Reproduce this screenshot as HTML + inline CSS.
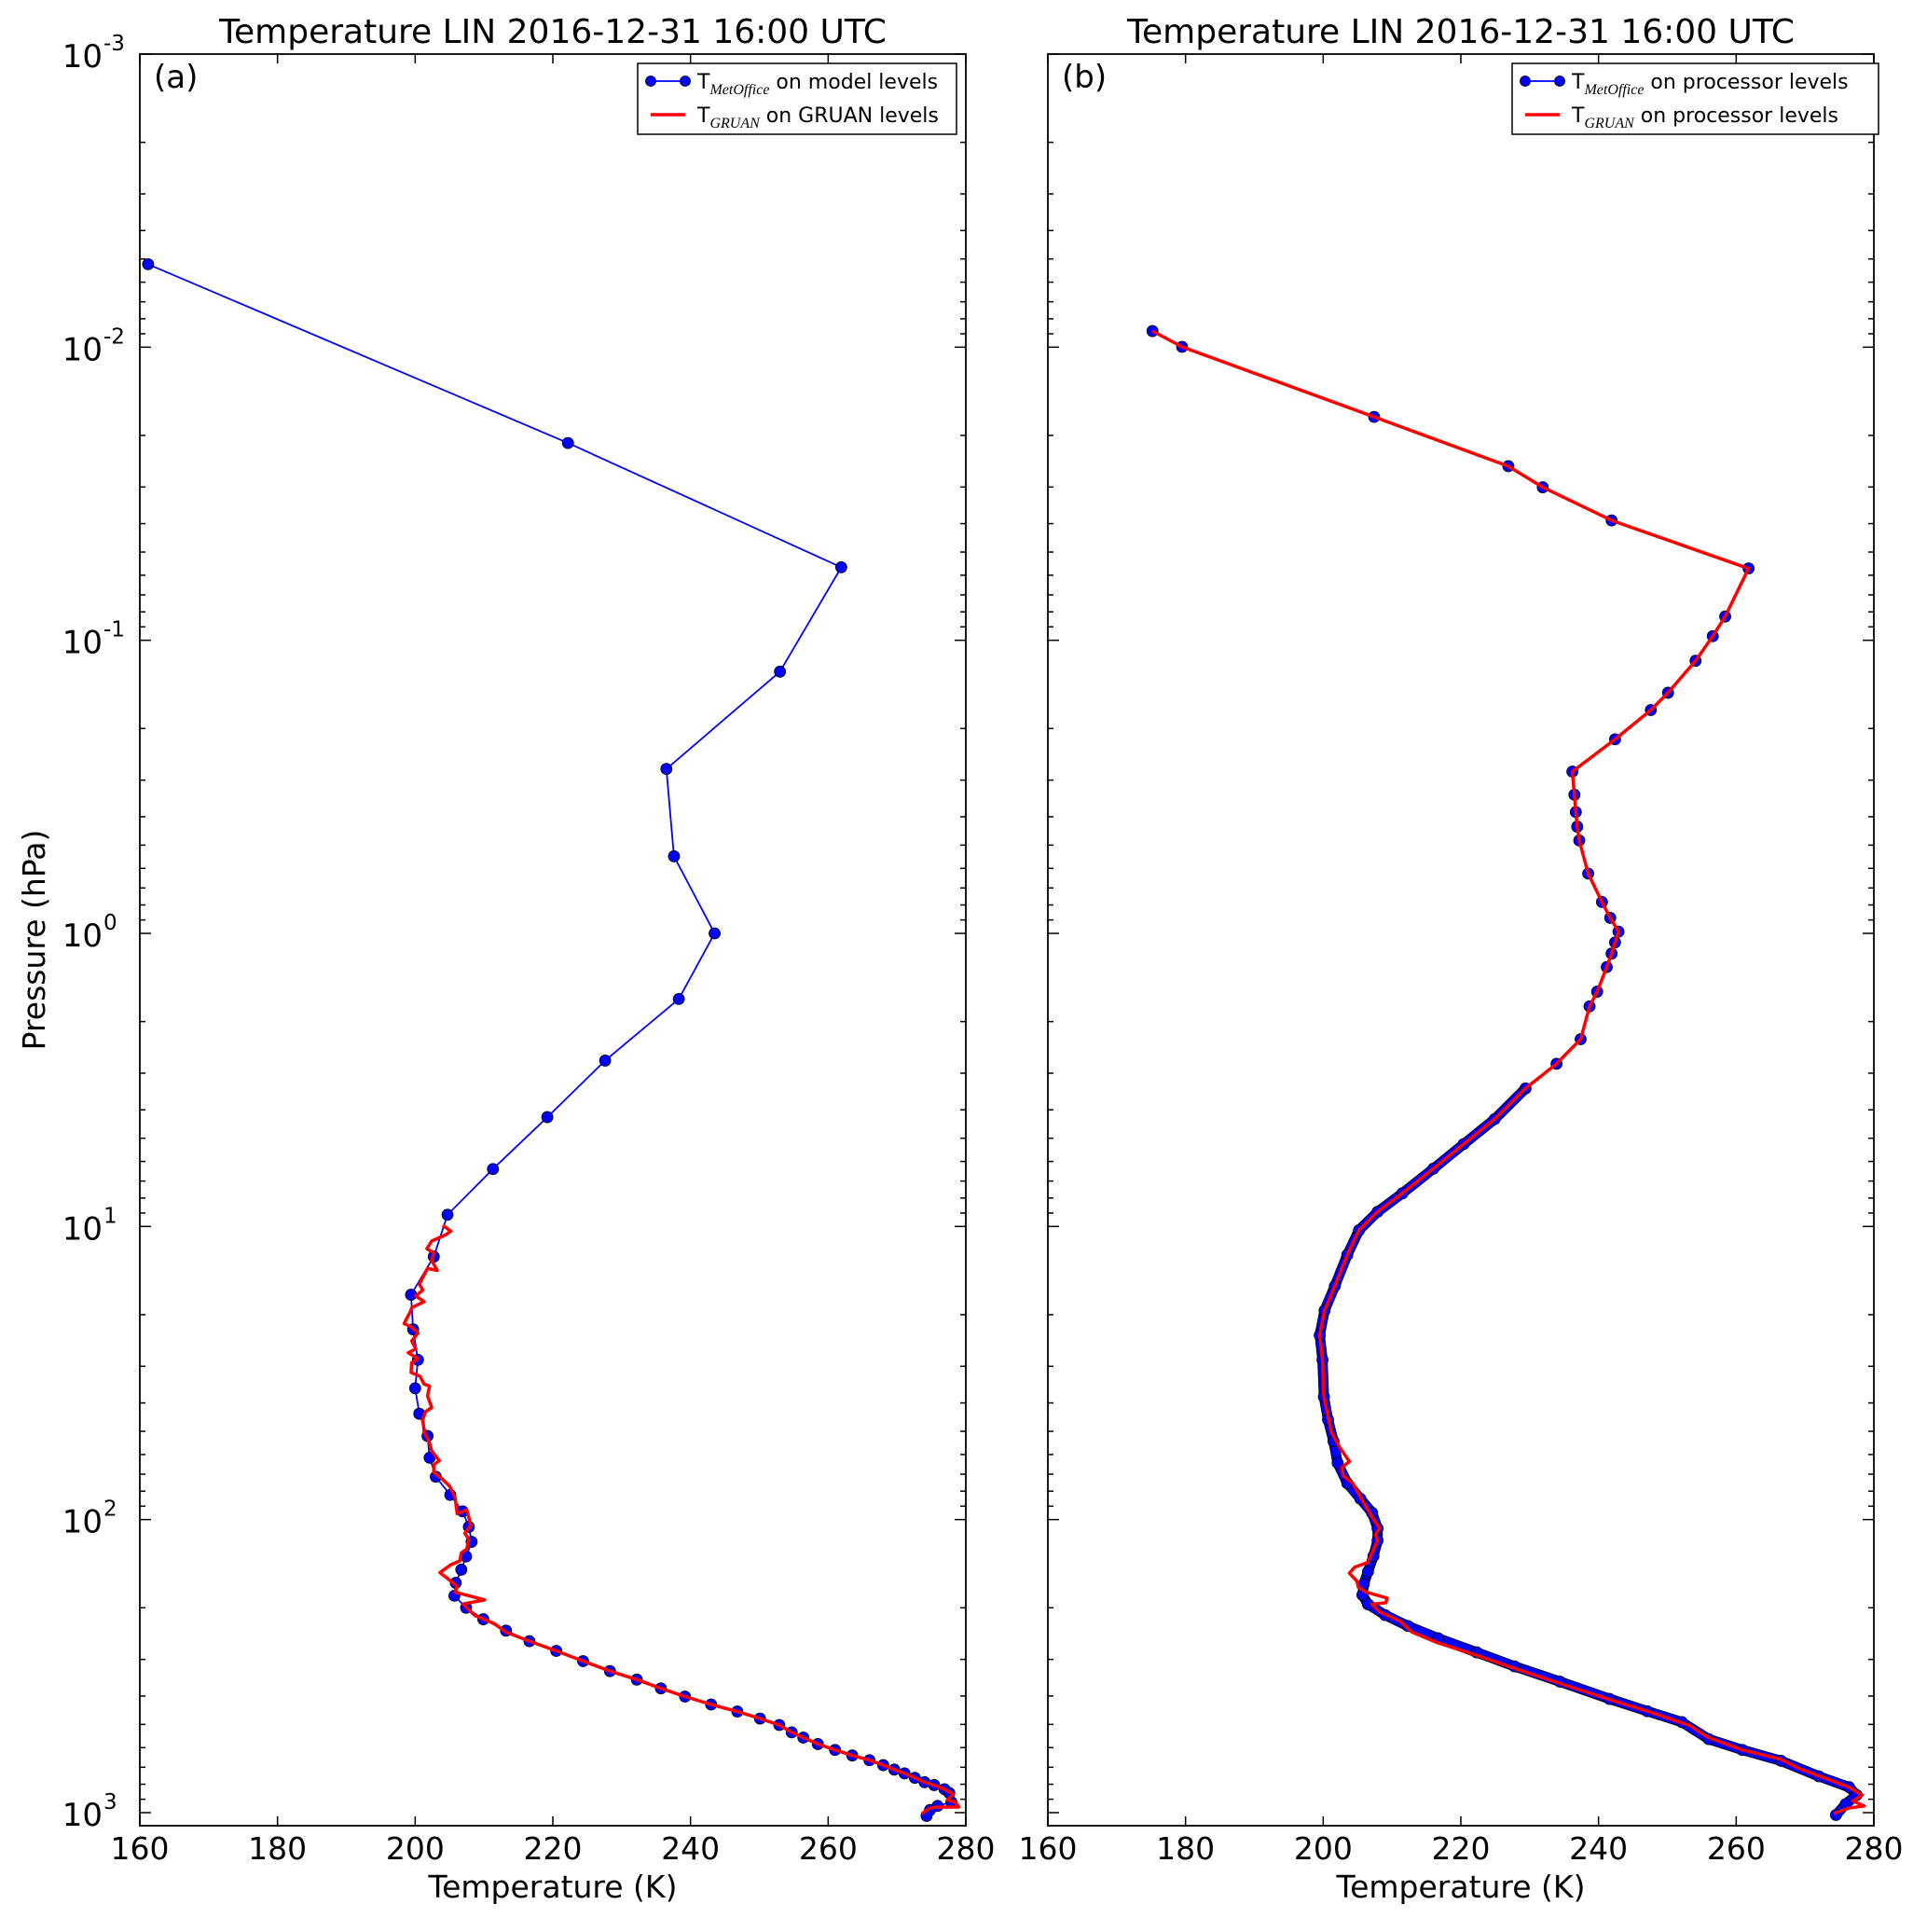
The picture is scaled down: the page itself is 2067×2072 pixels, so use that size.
<!DOCTYPE html>
<html><head><meta charset="utf-8"><style>
html,body{margin:0;padding:0;background:#fff;}
svg text{font-family:"DejaVu Sans","Liberation Sans",sans-serif;fill:#000;}
</style></head><body>
<svg id="fig" width="2067" height="2067" viewBox="0 0 2067 2067" xmlns="http://www.w3.org/2000/svg"></svg>
<script>
// ---- data (temperature K, log10 pressure hPa) ----
const xTicks = [160,180,200,220,240,260,280];
const yDecades = [-3,-2,-1,0,1,2,3];
const aModelT = [161.2,222.2,261.9,253.0,236.5,237.6,243.5,238.3,227.6,219.2,211.3,204.7,202.7,199.4,199.7,200.4,200.0,200.6,201.8,202.1,203.0,205.1,206.9,207.8,208.2,207.4,206.7,205.9,205.7,207.4,209.9,213.2,216.6,220.5,224.4,228.3,232.2,235.7,239.2,243.0,246.8,250.1,252.9,254.7,256.4,258.5,261.0,263.5,266.0,268.0,269.6,271.1,272.6,274.0,275.4,276.9,277.6,277.9,275.9,274.8,274.3];
const aModelLogP = [-2.283,-1.673,-1.249,-0.893,-0.561,-0.263,0.0,0.224,0.434,0.627,0.804,0.96,1.103,1.233,1.351,1.455,1.552,1.639,1.715,1.789,1.854,1.916,1.972,2.025,2.076,2.126,2.171,2.216,2.260,2.301,2.340,2.379,2.415,2.448,2.483,2.517,2.546,2.576,2.604,2.631,2.655,2.679,2.701,2.726,2.744,2.766,2.786,2.805,2.821,2.838,2.853,2.866,2.881,2.896,2.906,2.920,2.933,2.964,2.977,2.991,3.011];
const aGruanT = [204.0,205.2,204.4,202.4,201.7,202.7,202.4,203.2,201.8,200.6,201.1,200.1,201.3,199.5,199.3,198.4,199.5,200.4,199.5,200.1,199.0,200.4,199.5,199.4,200.7,201.3,202.1,201.8,202.4,201.5,201.1,201.3,202.1,202.4,203.5,202.7,202.7,203.8,205.0,205.8,206.1,207.5,208.1,207.2,207.8,207.5,206.7,206.5,205.2,203.6,204.7,206.1,205.8,210.1,207.0,207.5,208.7,211.5,213.2,216.6,220.5,224.4,228.3,232.2,235.7,239.2,243.0,246.8,250.1,252.9,254.7,256.4,258.5,261.0,263.5,266.0,268.0,269.6,271.1,272.6,274.0,275.4,276.9,278.2,277.3,278.5,279.0,275.9,274.8,273.6];
const aGruanLogP = [0.996,1.016,1.029,1.050,1.076,1.090,1.116,1.150,1.143,1.197,1.217,1.237,1.257,1.277,1.290,1.331,1.344,1.364,1.391,1.418,1.431,1.451,1.465,1.498,1.511,1.538,1.545,1.578,1.618,1.632,1.659,1.699,1.739,1.766,1.799,1.813,1.839,1.859,1.886,1.926,1.980,1.967,2.020,2.047,2.067,2.100,2.114,2.141,2.154,2.181,2.201,2.228,2.248,2.274,2.288,2.301,2.328,2.355,2.384,2.415,2.448,2.483,2.517,2.546,2.576,2.604,2.631,2.655,2.679,2.701,2.726,2.744,2.766,2.786,2.805,2.821,2.838,2.853,2.866,2.881,2.896,2.906,2.920,2.937,2.957,2.964,2.981,2.981,2.984,3.004];
const bUpperT = [175.2,179.5,207.4,226.9,231.9,241.9,261.8,258.4,256.6,254.1,250.1,247.6,242.4,236.2,236.5,236.7,236.9,237.2,238.5,240.5,241.7,242.9,242.4,241.9,241.2,239.8,238.7,237.4,233.9,229.4,224.9,220.4,216.0,211.5,207.9,205.2,203.5,201.7,200.2,199.5,199.9,200.1];
const bUpperLogP = [-2.055,-2.001,-1.762,-1.594,-1.522,-1.409,-1.245,-1.081,-1.014,-0.930,-0.821,-0.762,-0.662,-0.552,-0.473,-0.414,-0.364,-0.317,-0.204,-0.107,-0.053,-0.006,0.031,0.069,0.115,0.199,0.249,0.361,0.445,0.529,0.634,0.719,0.803,0.887,0.950,1.013,1.097,1.203,1.287,1.371,1.455,1.581];
const bModelLowT = [200.7,201.5,202.1,203.5,205.4,207.1,207.9,207.9,207.3,206.5,205.9,205.7,206.5,209.0,212.3,216.7,222.3,227.8,234.4,241.6,247.1,252.1,256.0,260.9,266.5,272.0,276.4,277.5,275.9,274.5];
const bModelLowLogP = [1.659,1.733,1.807,1.876,1.929,1.977,2.030,2.072,2.125,2.178,2.220,2.257,2.289,2.326,2.363,2.405,2.453,2.501,2.553,2.612,2.654,2.691,2.749,2.786,2.823,2.876,2.913,2.940,2.971,3.008];
const bGruanLowT = [201.2,202.4,203.8,202.7,202.9,204.3,206.2,207.3,208.2,207.6,207.9,207.1,206.5,204.6,203.8,204.9,205.1,206.2,209.3,209.1,207.1,208.2,211.2,212.9,216.7,222.3,227.8,234.4,241.6,247.1,253.2,256.0,260.9,266.5,269.2,276.4,278.3,277.0,278.6,276.4,274.2];
const bGruanLowLogP = [1.702,1.754,1.802,1.823,1.850,1.876,1.956,1.998,2.030,2.051,2.072,2.114,2.146,2.162,2.183,2.210,2.231,2.247,2.268,2.284,2.289,2.315,2.347,2.384,2.421,2.463,2.508,2.559,2.614,2.654,2.702,2.744,2.786,2.818,2.850,2.913,2.940,2.961,2.977,2.984,3.003];

// ---- layout ----
const TOP=58, BOT=1958, W=886;
const PANELS=[{left:150,id:'a'},{left:1124,id:'b'}];
const LOGMIN=-3, LOGMAX=3+14/314.3;
function yOf(lp){return TOP+(lp-LOGMIN)/(LOGMAX-LOGMIN)*(BOT-TOP);}
function xOf(panel,t){return panel.left+(t-160)/120*W;}
const NS='http://www.w3.org/2000/svg';
const svg=document.getElementById('fig');
function mk(tag,attrs,parent){const e=document.createElementNS(NS,tag);for(const k in attrs)e.setAttribute(k,attrs[k]);(parent||svg).appendChild(e);return e;}
function pts(panel,T,L){return T.map((t,i)=>xOf(panel,t).toFixed(1)+','+yOf(L[i]).toFixed(1)).join(' ');}

PANELS.forEach((p,pi)=>{
  const g=mk('g',{});
  
  
  const tk=mk('g',{stroke:'#000','stroke-width':1.5},g);
  
  
  xTicks.forEach(t=>{
    const x=xOf(p,t);
    mk('line',{x1:x,y1:BOT,x2:x,y2:BOT-10},tk);
    mk('line',{x1:x,y1:TOP,x2:x,y2:TOP+10},tk);
    const lb=mk('text',{x:x,y:1994,'font-size':33,'text-anchor':'middle'},g);
    lb.textContent=t;
    
    
  });
  yDecades.forEach(d=>{
    for(let m=1;m<10;m++){
      const lp=d+Math.log10(m);
      if(lp>LOGMAX)continue;
      const y=yOf(lp), len=m===1?12:6;
      mk('line',{x1:p.left,y1:y,x2:p.left+len,y2:y},tk);
      mk('line',{x1:p.left+W,y1:y,x2:p.left+W-len,y2:y},tk);
    }
    if(pi===0){
      const y=yOf(d);
      const lb=mk('text',{x:110,y:y+14,'font-size':34,'text-anchor':'end'},g);
      lb.textContent='10';
      
      
      const sp=mk('text',{x:111,y:y-4,'font-size':23,'text-anchor':'start'},g);
      sp.textContent=String(d);
      
      
    }
  });
  if(p.id==='a'){
    const bl=mk('polyline',{points:pts(p,aModelT,aModelLogP),fill:'none',stroke:'#0000ff','stroke-width':1.8},g);
    
    
    aModelT.forEach((t,i)=>{
      const c=mk('circle',{cx:xOf(p,t),cy:yOf(aModelLogP[i]),r:6,fill:'#0000ff',stroke:'#000','stroke-width':0.8},g);
      
      
    });
    const rl=mk('polyline',{points:pts(p,aGruanT,aGruanLogP),fill:'none',stroke:'#ff0000','stroke-width':3.5,'stroke-linejoin':'round'},g);
    
    
  } else {
    const mT=bUpperT.concat(bModelLowT), mL=bUpperLogP.concat(bModelLowLogP);
    const dense=mL.map((l,i)=>i).filter(i=>mL[i]>=0.5);
    const dT=dense.map(i=>mT[i]), dL=dense.map(i=>mL[i]);
    const th=mk('polyline',{points:pts(p,dT,dL),fill:'none',stroke:'#000020','stroke-width':11,'stroke-linejoin':'round','stroke-linecap':'round'},g);
    
    
    const th2=mk('polyline',{points:pts(p,dT,dL),fill:'none',stroke:'#0000ff','stroke-width':9,'stroke-linejoin':'round','stroke-linecap':'round'},g);
    
    
    mT.forEach((t,i)=>{
      const c=mk('circle',{cx:xOf(p,t),cy:yOf(mL[i]),r:6,fill:'#0000ff',stroke:'#000','stroke-width':0.8},g);
      
      
    });
    const rT=bUpperT.concat(bGruanLowT), rL=bUpperLogP.concat(bGruanLowLogP);
    const rl=mk('polyline',{points:pts(p,rT,rL),fill:'none',stroke:'#ff0000','stroke-width':3.5,'stroke-linejoin':'round'},g);
    
    
  }
  const fr=mk('rect',{x:p.left,y:TOP,width:W,height:BOT-TOP,fill:'none',stroke:'#000','stroke-width':1.8},g);
  
  
  const ti=mk('text',{x:p.left+W/2,y:46,'font-size':36,'text-anchor':'middle'},g);
  ti.textContent='Temperature LIN 2016-12-31 16:00 UTC';
  
  
  const pl=mk('text',{x:p.left+15,y:94,'font-size':34},g);
  pl.textContent='('+p.id+')';
  
  
  const xl=mk('text',{x:p.left+W/2,y:2035,'font-size':33,'text-anchor':'middle'},g);
  xl.textContent='Temperature (K)';
  
  
  const lx = p.id==='a'?684:1622, lw = p.id==='a'?342:393;
  const lg=mk('g',{},g);
  
  
  mk('rect',{x:lx,y:68,width:lw,height:76,fill:'#fff',stroke:'#000','stroke-width':1.5},lg);
  mk('line',{x1:lx+14,y1:87,x2:lx+51,y2:87,stroke:'#0000ff','stroke-width':1.8},lg);
  mk('circle',{cx:lx+14,cy:87,r:5.5,fill:'#0000ff',stroke:'#000','stroke-width':0.8},lg);
  mk('circle',{cx:lx+51,cy:87,r:5.5,fill:'#0000ff',stroke:'#000','stroke-width':0.8},lg);
  mk('line',{x1:lx+14,y1:123,x2:lx+51,y2:123,stroke:'#ff0000','stroke-width':3.5},lg);
  const suffix1 = p.id==='a'?' on model levels':' on processor levels';
  const suffix2 = p.id==='a'?' on GRUAN levels':' on processor levels';
  const t1=mk('text',{x:lx+64,y:95,'font-size':22},lg);
  t1.innerHTML='T<tspan font-size="16" font-style="italic" font-family="Liberation Serif, serif" dy="6">MetOffice</tspan><tspan dy="-6">'+suffix1+'</tspan>';
  
  
  const t2=mk('text',{x:lx+64,y:131,'font-size':22},lg);
  t2.innerHTML='T<tspan font-size="16" font-style="italic" font-family="Liberation Serif, serif" dy="6">GRUAN</tspan><tspan dy="-6">'+suffix2+'</tspan>';
  
  
});
const yl=mk('text',{x:0,y:0,'font-size':33,'text-anchor':'middle',transform:'translate(48,1008) rotate(-90)'});
yl.textContent='Pressure (hPa)';


</script>
</body></html>
